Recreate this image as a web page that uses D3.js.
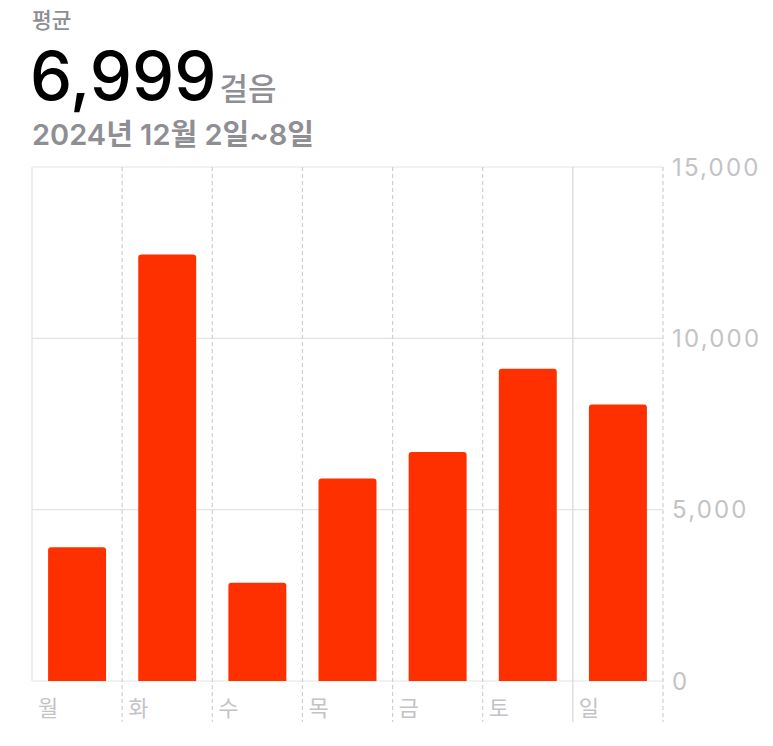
<!DOCTYPE html>
<html>
<head>
<meta charset="utf-8">
<script src="https://cdn.jsdelivr.net/npm/d3@7"></script>
<style>
  html, body { margin: 0; padding: 0; background: #fff; }
  svg { display: block; font-family: "Inter", "Noto Sans CJK KR", sans-serif; }
</style>
</head>
<body>
<svg id="chart" width="773" height="746"></svg>
<script>
const days = ["월", "화", "수", "목", "금", "토", "일"];
const steps = [3905, 12450, 2870, 5910, 6680, 9110, 8068];
const yTicks = [0, 5000, 10000, 15000];
const headerLabel = "평균";
const averageText = "6,999";
const unitText = "걸음";
const dateText = "2024년 12월 2일~8일";

const svg = d3.select("#chart");
const plotL = 32, plotR = 663, plotT = 167, plotB = 681, labelB = 722;

const x = d3.scaleBand().domain(days).range([plotL, plotR]).padding(0);
const y = d3.scaleLinear().domain([0, 15000]).range([plotB, plotT]);

// header
svg.append("text").attr("x", 32).attr("y", 28).attr("font-size", 21.5).attr("font-weight", 500)
  .attr("fill", "#8e8e93").text(headerLabel);
const big = svg.append("text").attr("x", 30).attr("y", 100);
big.append("tspan").attr("font-size", 67).attr("font-weight", 500).attr("fill", "#000").text(averageText);
big.append("tspan").attr("font-size", 31).attr("font-weight", 500).attr("fill", "#8e8e93").attr("dx", 3).text(unitText);
svg.append("text").attr("x", 32).attr("y", 145).attr("font-size", 29).attr("font-weight", 600)
  .attr("fill", "#8e8e93").text(dateText);

// horizontal grid
svg.append("g").selectAll("line").data(yTicks).join("line")
  .attr("x1", plotL).attr("x2", plotR)
  .attr("y1", d => y(d)).attr("y2", d => y(d))
  .attr("stroke", "#e3e3e6").attr("stroke-width", 1.2);

// vertical lines
svg.append("line").attr("x1", plotL).attr("x2", plotL).attr("y1", plotT).attr("y2", plotB)
  .attr("stroke", "#e3e3e6").attr("stroke-width", 1.2);
const dividers = days.slice(1).concat(["end"]);
svg.append("g").selectAll("line").data(dividers).join("line")
  .attr("x1", d => d === "end" ? plotR : x(d))
  .attr("x2", d => d === "end" ? plotR : x(d))
  .attr("y1", plotT).attr("y2", labelB)
  .attr("stroke", d => d === "일" ? "#d6d6d9" : "#cfcfd2")
  .attr("stroke-width", 1.2)
  .attr("stroke-dasharray", d => d === "일" ? null : "4,3");

// bars with rounded top corners
const bw = x.bandwidth() * 0.643;
const r = 3;
svg.append("g").selectAll("path").data(days).join("path")
  .attr("fill", "#ff3000")
  .attr("d", (d, i) => {
    const x0 = x(d) + (x.bandwidth() - bw) / 2, x1 = x0 + bw;
    const yt = y(steps[i]), yb = y(0);
    return `M${x0},${yb}V${yt + r}Q${x0},${yt} ${x0 + r},${yt}H${x1 - r}Q${x1},${yt} ${x1},${yt + r}V${yb}Z`;
  });

// day labels
svg.append("g").selectAll("text").data(days).join("text")
  .attr("x", d => x(d) + 6).attr("y", 716)
  .attr("font-size", 22).attr("fill", "#c3c3c6").text(d => d);

// y labels
svg.append("g").selectAll("text").data(yTicks).join("text")
  .attr("x", 672).attr("y", d => y(d)).attr("dy", "0.36em")
  .attr("font-size", 24).attr("fill", "#c3c3c6").attr("letter-spacing", 2.2)
  .text(d => d3.format(",")(d));
</script>
</body>
</html>
